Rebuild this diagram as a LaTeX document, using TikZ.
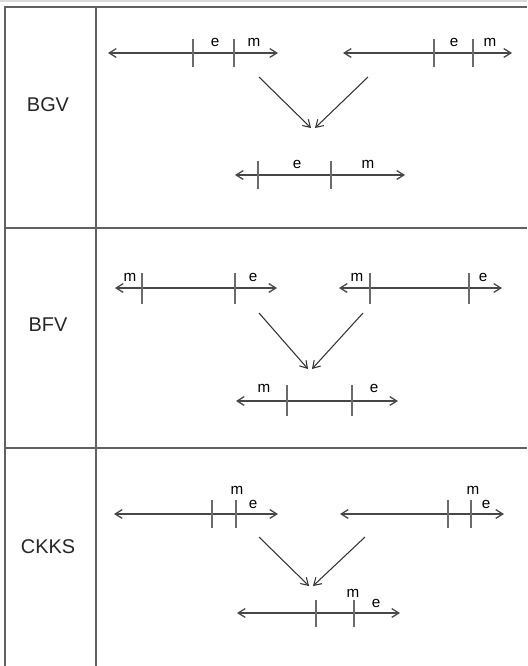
\documentclass[tikz,border=0pt]{standalone}
\usepackage{fontspec}
\setmainfont{Liberation Sans}
\usetikzlibrary{arrows.meta}

\begin{document}
\begin{tikzpicture}[x=0.03cm, y=-0.03cm,
	frame/.style={draw=black!62, line width=1.6pt},
	axis/.style={black!72, line width=1.1pt, {Straight Barb[length=6pt,width=7.5pt]}-{Straight Barb[length=6pt,width=7.5pt]}},
	tick/.style={black!58, line width=1.3pt},
	merge/.style={black!80, line width=0.9pt, -{Straight Barb[length=6pt,width=7.5pt]}},
	scheme/.style={font=\fontsize{17}{20}\selectfont, text=black!85},
	lbl/.style={font=\fontsize{13}{15}\selectfont, inner sep=0pt, text=black}]
	\useasboundingbox (0,0) rectangle (527,666);
	\draw[black!15, line width=2pt] (0,1) -- (527,1);
	% table
	\draw[frame] (527,7) -- (5,7) -- (5,666);
	\draw[frame] (96,7) -- (96,666);
	\draw[frame] (5,228) -- (527,228);
	\draw[frame] (5,448) -- (527,448);
	\node[scheme] (bgv) at (48,105) {BGV};
	\node[scheme] (bfv) at (48,325) {BFV};
	\node[scheme] (ckks) at (48,547) {CKKS};

	% BGV
	\draw[axis] (108,53) -- (278,53);
	\foreach \x in {193,234} {\draw[tick] (\x,39) -- (\x,67);}
	\node[lbl] (bgv-e1) at (215,42) {e};
	\node[lbl] (bgv-m1) at (254,42) {m};
	\draw[axis] (343,53) -- (512,53);
	\foreach \x in {434,473} {\draw[tick] (\x,39) -- (\x,67);}
	\node[lbl] (bgv-e2) at (454,42) {e};
	\node[lbl] (bgv-m2) at (490,42) {m};
	\coordinate (bgv-a) at (259,77);
	\coordinate (bgv-b) at (368,77);
	\coordinate (bgv-c) at (311,128);
	\coordinate (bgv-d) at (315,128);
	\draw[merge] (bgv-a) -- (bgv-c);
	\draw[merge] (bgv-b) -- (bgv-d);
	\draw[axis] (235,175) -- (405,175);
	\foreach \x in {258,331} {\draw[tick] (\x,161) -- (\x,189);}
	\node[lbl] (bgv-e3) at (297,164) {e};
	\node[lbl] (bgv-m3) at (368,164) {m};

	% BFV
	\draw[axis] (115,288) -- (277,288);
	\foreach \x in {142,235} {\draw[tick] (\x,273) -- (\x,304);}
	\node[lbl] (bfv-m1) at (130,277) {m};
	\node[lbl] (bfv-e1) at (253,277) {e};
	\draw[axis] (339,288) -- (502,288);
	\foreach \x in {370,469} {\draw[tick] (\x,273) -- (\x,304);}
	\node[lbl] (bfv-m2) at (357,277) {m};
	\node[lbl] (bfv-e2) at (483,277) {e};
	\coordinate (bfv-a) at (259,313);
	\coordinate (bfv-b) at (363,313);
	\coordinate (bfv-c) at (308,369);
	\coordinate (bfv-d) at (312,369);
	\draw[merge] (bfv-a) -- (bfv-c);
	\draw[merge] (bfv-b) -- (bfv-d);
	\draw[axis] (236,401) -- (398,401);
	\foreach \x in {287,352} {\draw[tick] (\x,385) -- (\x,416);}
	\node[lbl] (bfv-m3) at (264,388) {m};
	\node[lbl] (bfv-e3) at (374,388) {e};

	% CKKS
	\draw[axis] (114,514) -- (278,514);
	\foreach \x in {212,236} {\draw[tick] (\x,500) -- (\x,528);}
	\node[lbl] (ckks-m1) at (237,490) {m};
	\node[lbl] (ckks-e1) at (253,504) {e};
	\draw[axis] (340,514) -- (504,514);
	\foreach \x in {448,471} {\draw[tick] (\x,500) -- (\x,528);}
	\node[lbl] (ckks-m2) at (473,490) {m};
	\node[lbl] (ckks-e2) at (486,504) {e};
	\coordinate (ckks-a) at (259,537);
	\coordinate (ckks-b) at (365,537);
	\coordinate (ckks-c) at (309,586);
	\coordinate (ckks-d) at (313,586);
	\draw[merge] (ckks-a) -- (ckks-c);
	\draw[merge] (ckks-b) -- (ckks-d);
	\draw[axis] (237,613) -- (400,613);
	\foreach \x in {316,354} {\draw[tick] (\x,600) -- (\x,627);}
	\node[lbl] (ckks-m3) at (353,593) {m};
	\node[lbl] (ckks-e3) at (376,603) {e};
\end{tikzpicture}
\end{document}
